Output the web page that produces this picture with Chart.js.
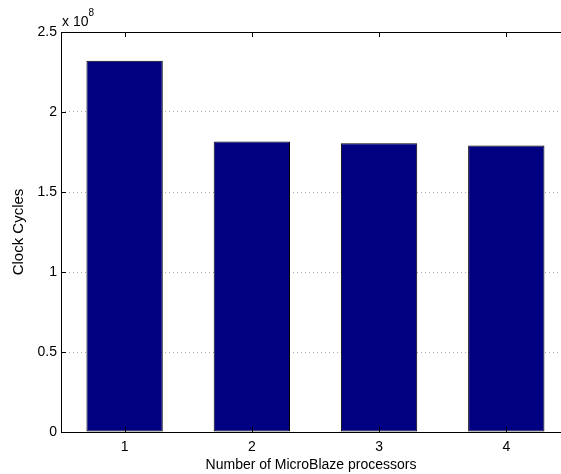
<!DOCTYPE html>
<html>
<head>
<meta charset="utf-8">
<script src="https://cdn.jsdelivr.net/npm/chart.js@4/dist/chart.umd.min.js"></script>
<style>
  html,body{margin:0;padding:0;background:#fff;overflow:hidden;}
</style>
</head>
<body>
<canvas id="c" width="561" height="474"></canvas>
<script>
// processors vs clock cycles
const processors = [1, 2, 3, 4];
const cycles = [2.32e8, 1.815e8, 1.805e8, 1.79e8];
const yTicks = [0, 0.5e8, 1e8, 1.5e8, 2e8, 2.5e8];
// original figure is cut off on the right, so x range stops short of 4.5
const xMin = 0.5, xMax = 4.43;

const FONT = 'Liberation Sans, Arial, Helvetica, sans-serif';

// axes frame (left/top/bottom) + inward ticks, matlab style
const boxPlugin = {
  id:'box',
  afterDatasetsDraw(chart){
    const {ctx, chartArea:a, scales:{x,y}} = chart;
    const L = Math.round(a.left)+0.5, T = Math.round(a.top)+0.5, B = Math.round(a.bottom)+0.5;
    ctx.save();
    ctx.strokeStyle='#000';
    ctx.lineWidth=1;
    ctx.beginPath();
    ctx.moveTo(a.right, T); ctx.lineTo(L, T); ctx.lineTo(L, B); ctx.lineTo(a.right, B);
    yTicks.forEach(v=>{
      const py = Math.round(y.getPixelForValue(v))+0.5;
      ctx.moveTo(a.left, py); ctx.lineTo(a.left+5, py);
    });
    processors.forEach(p=>{
      const px = Math.round(x.getPixelForValue(p))+0.5;
      ctx.moveTo(px, a.bottom); ctx.lineTo(px, a.bottom-5);
      ctx.moveTo(px, a.top); ctx.lineTo(px, a.top+5);
    });
    ctx.stroke();
    // exponent label
    ctx.fillStyle='#000';
    ctx.font='14px '+FONT;
    ctx.textBaseline='alphabetic';
    ctx.textAlign='left';
    ctx.fillText('x 10', a.left+1, a.top-6);
    const w = ctx.measureText('x 10').width;
    ctx.font='10px '+FONT;
    ctx.fillText('8', a.left+1+w, a.top-16);
    ctx.restore();
  }
};

new Chart(document.getElementById('c'), {
  type:'bar',
  data:{
    datasets:[{
      data:processors.map((p,i)=>({x:p, y:cycles[i]})),
      backgroundColor:'#000080',
      borderColor:'#000',
      borderWidth:1,
      borderSkipped:false,
      barPercentage:0.6,
      categoryPercentage:1
    }]
  },
  options:{
    responsive:false,
    animation:false,
    layout:{padding:{top:32,right:0,left:10,bottom:0}},
    plugins:{legend:{display:false},tooltip:{enabled:false}},
    scales:{
      x:{
        type:'linear',
        offset:false,
        min:xMin, max:xMax,
        afterBuildTicks(s){ s.ticks = processors.map(v=>({value:v})); },
        grid:{display:false,drawTicks:false},
        border:{display:false},
        ticks:{color:'#000',font:{family:FONT,size:14},padding:7,callback:(v)=>String(v)},
        title:{display:true,text:'Number of MicroBlaze processors',color:'#000',font:{family:FONT,size:14},padding:{top:1,bottom:0}},
        afterFit(s){ s.height = 42; }
      },
      y:{
        min:0,max:2.5e8,
        afterBuildTicks(s){ s.ticks = yTicks.map(v=>({value:v})); },
        grid:{
          drawTicks:false,
          color:(c)=> (c.tick && (c.tick.value===0 || c.tick.value===2.5e8)) ? 'rgba(0,0,0,0)' : '#aaa'
        },
        border:{display:false, dash:[1,3]},
        ticks:{color:'#000',font:{family:FONT,size:14},padding:4,callback:(v)=>String(v/1e8)},
        title:{display:true,text:'Clock Cycles',color:'#000',font:{family:FONT,size:15},padding:{top:0,bottom:0}},
        afterFit(s){ s.width = 51; }
      }
    }
  },
  plugins:[boxPlugin]
});
</script>
</body>
</html>
